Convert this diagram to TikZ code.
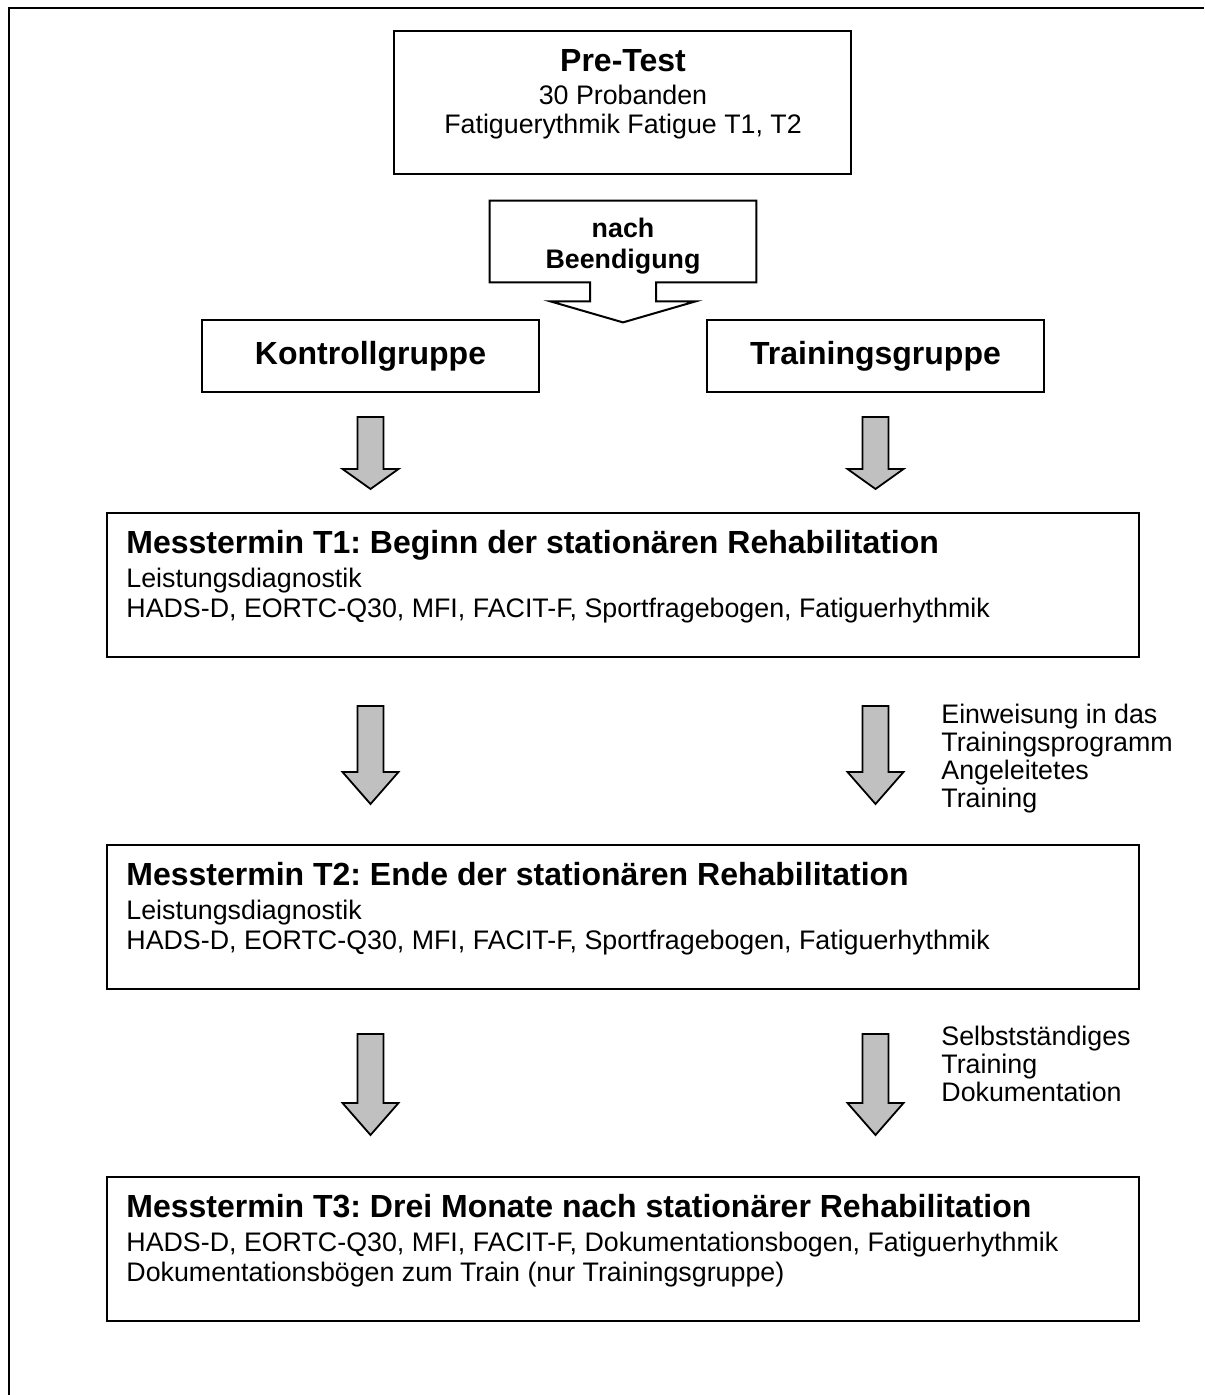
\documentclass[tikz,border=0pt]{standalone}
\usepackage{fontspec}
\setmainfont{Liberation Sans}
\usetikzlibrary{calc}
\definecolor{arrowgray}{RGB}{192,192,192}

\tikzset{
  frame/.style={line width=1.35pt, black},
  box/.style={draw, line width=1pt, inner sep=0pt},
  grayarrow/.style={draw, line width=0.9pt, fill=arrowgray, line join=miter},
  titletext/.style={font=\fontsize{16}{17}\selectfont\bfseries, inner sep=0pt},
  bodytext/.style={font=\fontsize{13.4}{15}\selectfont, inner sep=0pt, align=left},
}

% block arrow from top coordinate to tip, #3 = head length
\newcommand{\blockarrow}[3]{%
  \draw[grayarrow] ($(#1)+(-13,0)$) -- ($(#1)+(13,0)$) -- ($(#2)+(13,-#3)$)
    -- ($(#2)+(28,-#3)$) -- (#2) -- ($(#2)+(-28,-#3)$) -- ($(#2)+(-13,-#3)$) -- cycle;}

\begin{document}
\frenchspacing
\begin{tikzpicture}[x=0.5pt,y=-0.5pt]
	\useasboundingbox (0,0) rectangle (1204,1395);

	% outer frame
	\draw[frame] (9,1395) -- (9,8) -- (1204,8);

	% pre-test
	\node[box, minimum width=228.5pt, minimum height=71.5pt] (pretest) at (622.5,102.5) {};
	\node[titletext, anchor=base] (pretesthead) at (623,72) {Pre-Test};
	\node[bodytext, align=center, anchor=north, font=\fontsize{13.4}{14.5}\selectfont] (pretestbody) at (623,84.8)
		{30 Probanden\\Fatiguerythmik Fatigue T1, T2};

	% nach Beendigung
	\node[inner sep=0pt, minimum width=133pt, minimum height=40.5pt] (nach) at (623,241.5) {};
	\draw[box] ($(nach.south)+(-33,0)$) -- ($(nach.south)+(-33,19)$) -- ($(nach.south)+(-72.5,19)$)
		-- ($(nach.south)+(0,40)$) -- ($(nach.south)+(72.5,19)$) -- ($(nach.south)+(33,19)$)
		-- ($(nach.south)+(33,0)$) -- (nach.south east) -- (nach.north east) -- (nach.north west)
		-- (nach.south west) -- cycle;
	\node[bodytext, align=center, anchor=north, font=\fontsize{13.4}{15.5}\selectfont\bfseries] (nachtext) at (623,218)
		{nach\\Beendigung};

	% groups
	\node[box, titletext, minimum width=168.5pt, minimum height=36pt] (kontroll) at (370.5,356) {Kontrollgruppe};
	\node[box, titletext, minimum width=168.5pt, minimum height=36pt] (training) at (875.5,356) {Trainingsgruppe};

	% measurement dates
	\node[box, minimum width=516pt, minimum height=72pt] (t1) at (623,585) {};
	\node[titletext, anchor=base west] (t1head) at (126,553) {Messtermin T1: Beginn der stationären Rehabilitation};
	\node[bodytext, anchor=north west] (t1body) at (126,567.8)
		{Leistungsdiagnostik\\HADS-D, EORTC-Q30, MFI, FACIT-F, Sportfragebogen, Fatiguerhythmik};

	\node[box, minimum width=516pt, minimum height=72pt] (t2) at (623,917) {};
	\node[titletext, anchor=base west] (t2head) at (126,885) {Messtermin T2: Ende der stationären Rehabilitation};
	\node[bodytext, anchor=north west] (t2body) at (126,899.8)
		{Leistungsdiagnostik\\HADS-D, EORTC-Q30, MFI, FACIT-F, Sportfragebogen, Fatiguerhythmik};

	\node[box, minimum width=516pt, minimum height=72pt] (t3) at (623,1249) {};
	\node[titletext, anchor=base west] (t3head) at (126,1217) {Messtermin T3: Drei Monate nach stationärer Rehabilitation};
	\node[bodytext, anchor=north west] (t3body) at (126,1231.8)
		{HADS-D, EORTC-Q30, MFI, FACIT-F, Dokumentationsbogen, Fatiguerhythmik\\Dokumentationsbögen zum Train (nur Trainingsgruppe)};

	% side notes
	\node[bodytext, anchor=north west, font=\fontsize{13.4}{14}\selectfont] (einweisung) at (941,703.8)
		{Einweisung in das\\Trainingsprogramm\\Angeleitetes\\Training};
	\node[bodytext, anchor=north west, font=\fontsize{13.4}{14}\selectfont] (selbst) at (941,1025.8)
		{Selbstständiges\\Training\\Dokumentation};

	% gray arrows
	\coordinate (ka) at ($(kontroll.south)+(0,24)$);
	\coordinate (kb) at ($(t1.north -| ka)+(0,-23)$);
	\coordinate (ta) at ($(training.south)+(0,24)$);
	\coordinate (tb) at ($(t1.north -| ta)+(0,-23)$);
	\blockarrow{ka}{kb}{20}
	\blockarrow{ta}{tb}{20}

	\coordinate (k1a) at ($(t1.south -| ka)+(0,48)$);
	\coordinate (k1b) at ($(t2.north -| ka)+(0,-40)$);
	\coordinate (t1a) at ($(t1.south -| ta)+(0,48)$);
	\coordinate (t1b) at ($(t2.north -| ta)+(0,-40)$);
	\blockarrow{k1a}{k1b}{32}
	\blockarrow{t1a}{t1b}{32}

	\coordinate (k2a) at ($(t2.south -| ka)+(0,44)$);
	\coordinate (k2b) at ($(t3.north -| ka)+(0,-41)$);
	\coordinate (t2a) at ($(t2.south -| ta)+(0,44)$);
	\coordinate (t2b) at ($(t3.north -| ta)+(0,-41)$);
	\blockarrow{k2a}{k2b}{32}
	\blockarrow{t2a}{t2b}{32}

\end{tikzpicture}
\end{document}
